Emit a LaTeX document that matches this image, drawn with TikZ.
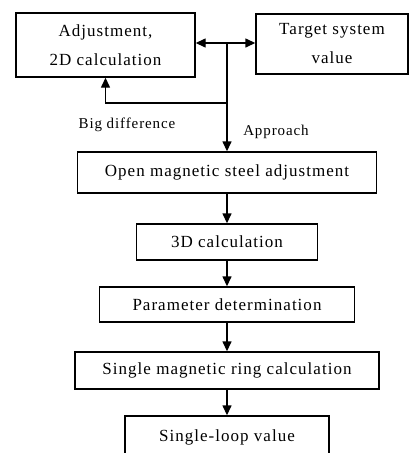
\documentclass[tikz,border=0pt]{standalone}
\usepackage{fontspec}
\setmainfont[LetterSpace=6]{Liberation Serif}
\usetikzlibrary{arrows.meta}
\begin{document}
\begin{tikzpicture}[x=1pt,y=-1pt,
		box/.style={draw,line width=1.4pt,inner sep=0pt,align=center,font=\fontsize{17}{29}\selectfont},
		arr/.style={line width=1.4pt,-{Triangle[length=10pt,width=9pt]}},
		lbl/.style={font=\fontsize{15}{18}\selectfont}]
		\useasboundingbox (0,0) rectangle (409,453);
		\node[box,minimum width=179pt,minimum height=64pt] (adjust) at (105.5,45) {Adjustment,\\2D calculation};
		\node[box,minimum width=152pt,minimum height=60pt] (target) at (332,44) {Target system\\value};
		\node[box,minimum width=299pt,minimum height=41pt] (openmag) at (227,172.5) {Open magnetic steel adjustment};
		\node[box,minimum width=181pt,minimum height=36pt] (calc3d) at (227,242) {3D calculation};
		\node[box,minimum width=255pt,minimum height=35pt] (param) at (227,304.5) {Parameter determination};
		\node[box,minimum width=304pt,minimum height=37pt] (ringcalc) at (227,370.5) {Single magnetic ring calculation};
		\node[box,minimum width=204pt,minimum height=42pt] (loopval) at (227,437) {Single-loop value};
		\coordinate (split) at (227,43);
		\coordinate (back) at (227,103);
		\draw[arr,{Triangle[length=10pt,width=9pt]}-{Triangle[length=10pt,width=9pt]}] (adjust.east |- split) -- (target.west |- split);
		\draw[arr] (split) -- (openmag.north);
		\draw[arr] (back) -- (back -| adjust.south) -- (adjust.south);
		\draw[arr] (openmag.south) -- (calc3d.north);
		\draw[arr] (calc3d.south) -- (param.north);
		\draw[arr] (param.south) -- (ringcalc.north);
		\draw[arr] (ringcalc.south) -- (loopval.north);
		\node[lbl] (bigdiff) at (127,125) {Big difference};
		\node[lbl] (approach) at (276,132) {Approach};
\end{tikzpicture}
\end{document}
